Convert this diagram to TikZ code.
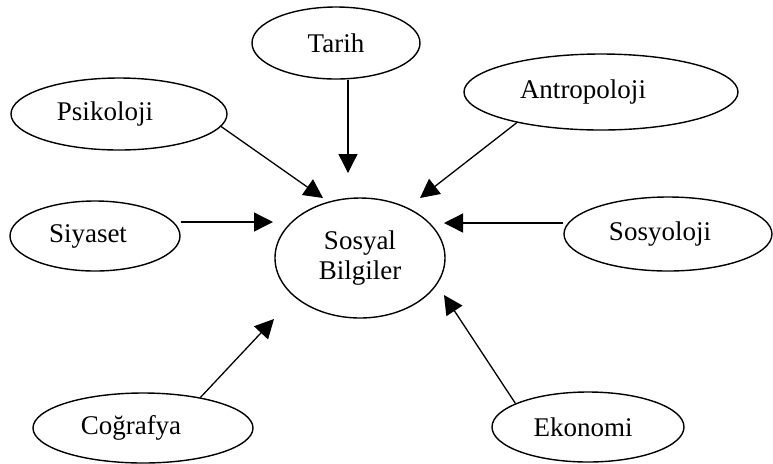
\documentclass[tikz,border=0pt]{standalone}
\usepackage{fontspec}
\setmainfont{Liberation Serif}
\usetikzlibrary{arrows.meta}
\usetikzlibrary{shapes.geometric}
\tikzset {
  % one discipline around the centre
  field/.style = {
    draw = black,
    ellipse,
    line width = 0.7pt,
    inner sep = 0,
    font = \fontsize{13.5}{15}\selectfont
  },
  % text sits a little left of the middle
  text left/.style = {
    execute at begin node = {\hspace*{-#1}}
  },
  % the centre node
  core/.style = {
    field,
    align = center,
    minimum width = 85pt,
    minimum height = 60pt
  },
  % path style with a filled tip
  arr/.style = {
    draw = black,
    line width = 0.65pt,
    -{Triangle[length = 9.5pt, width = 9.5pt]}
  }
}

\begin{document}
\begin{tikzpicture}[x = 0.5pt, y = -0.5pt]
    \useasboundingbox (0,0) rectangle (773,463);
    \node[core] (sosyal) at (360,258) {Sosyal\\Bilgiler};
    \node[field, minimum width = 84pt, minimum height = 36pt] (tarih) at (336,43) {Tarih};
    \node[field, text left = 14pt, minimum width = 108pt, minimum height = 36pt] (psikoloji) at (119,114) {Psikoloji};
    \node[field, text left = 18pt, minimum width = 137pt, minimum height = 38pt] (antropoloji) at (601,92) {Antropoloji};
    \node[field, text left = 7pt, minimum width = 85pt, minimum height = 35pt] (siyaset) at (95,236) {Siyaset};
    \node[field, text left = 8pt, minimum width = 104pt, minimum height = 37pt] (sosyoloji) at (668,234) {Sosyoloji};
    \node[field, text left = 12pt, minimum width = 110pt, minimum height = 35pt] (cografya) at (143,428) {Coğrafya};
    \node[field, text left = 5pt, minimum width = 96pt, minimum height = 35pt] (ekonomi) at (588,427) {Ekonomi};

    \coordinate (tarih-end) at (348,173);
    \coordinate (psikoloji-end) at (323,198);
    \coordinate (antropoloji-end) at (420,198);
    \coordinate (siyaset-end) at (273,222);
    \coordinate (sosyoloji-end) at (444,223);
    \coordinate (cografya-end) at (274,319);
    \coordinate (ekonomi-end) at (444,295);

    \draw[arr] (tarih-end |- tarih.south) -- (tarih-end);
    \draw[arr] (psikoloji.-7) -- (psikoloji-end);
    \draw[arr] (antropoloji.-160) -- (antropoloji-end);
    \draw[arr] (siyaset.east |- siyaset-end) -- (siyaset-end);
    \draw[arr] (sosyoloji.west |- sosyoloji-end) -- (sosyoloji-end);
    \draw[arr] (cografya.28) -- (cografya-end);
    \draw[arr] (ekonomi.162) -- (ekonomi-end);
\end{tikzpicture}
\end{document}
